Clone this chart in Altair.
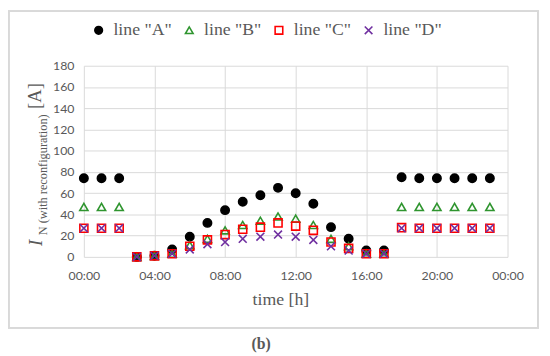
import altair as alt
import pandas as pd

hours = list(range(24))
series_names = ['line "A"', 'line "B"', 'line "C"', 'line "D"']
line_a = [74, 74, 74, 0, 1, 7, 19, 32, 44, 52, 58, 65, 60, 50, 28, 17, 6, 6, 75, 74, 74, 74, 74, 74]
line_b = [47, 47, 47, 0, 1, 3, 11, 17, 25, 30, 34, 38, 36, 30, 17, 10, 3, 3, 47, 47, 47, 47, 47, 47]
line_c = [27, 27, 27, 0, 1, 3, 10, 16, 21, 26, 28, 32, 29, 25, 14, 8, 3, 3, 27.5, 27, 27, 27, 27, 27]
line_d = [27, 27, 27, 0, 1, 3, 7, 12, 14, 17, 19, 21, 19, 16, 10, 6, 3, 3, 27, 27, 27, 27, 27, 27]
x_ticks = [0, 4, 8, 12, 16, 20, 24]
y_ticks = list(range(0, 181, 20))

rows = []
for i, (name, vals) in enumerate(zip(series_names, [line_a, line_b, line_c, line_d])):
    for h, v in zip(hours, vals):
        rows.append({"hour": h, "value": v, "series": name, "sz": i})
df = pd.DataFrame(rows)

colors = ["#000000", "#2f952f", "#ff0000", "#7030a0"]
fills = ["#000000", "transparent", "transparent", "transparent"]
shapes = ["circle", "triangle-up", "square", "M-1,-1L1,1M-1,1L1,-1"]
sizes = [72, 64, 81, 45]

points = alt.Chart(df).mark_point(strokeWidth=1.6, opacity=1).encode(
    x=alt.X("hour:Q", scale=alt.Scale(domain=[0, 24], nice=False, zero=False),
            axis=alt.Axis(values=x_ticks, title=None, grid=True, ticks=False, domain=False,
                          labelExpr="(datum.value % 24 < 10 ? '0' : '') + (datum.value % 24) + ':00'",
                          labelFont="Lato", labelFontSize=12.5, labelColor="#595959",
                          labelPadding=13, labelFlush=False, labelOverlap=False,
                          gridColor="#d9d9d9", gridWidth=1)),
    y=alt.Y("value:Q", scale=alt.Scale(domain=[0, 180], nice=False),
            axis=alt.Axis(values=y_ticks, title=None, grid=True, ticks=False, domain=False,
                          labelFont="Lato", labelFontSize=12.5, labelColor="#595959",
                          labelPadding=10, labelOverlap=False, labelFlush=False,
                          gridColor="#d9d9d9", gridWidth=1)),
    stroke=alt.Stroke("series:N", scale=alt.Scale(domain=series_names, range=colors),
                      legend=alt.Legend(title=None, orient="none", direction="horizontal",
                                        legendX=6, legendY=-45,
                                        labelFont="Liberation Serif", labelFontSize=18,
                                        labelColor="#595959", labelOffset=6,
                                        columnPadding=8, symbolSize=60,
                                        symbolStrokeWidth=1.6)),
    fill=alt.Fill("series:N", scale=alt.Scale(domain=series_names, range=fills)),
    shape=alt.Shape("series:N", scale=alt.Scale(domain=series_names, range=shapes)),
    size=alt.Size("sz:O", scale=alt.Scale(domain=[0, 1, 2, 3], range=sizes), legend=None),
)

border = alt.Chart(df).mark_rect(fill="transparent", stroke="#d9d9d9", strokeWidth=1.2).encode(
    x=alt.value(-76.5), x2=alt.value(461), y=alt.value(-55.5), y2=alt.value(266)
)

def label(text, x, y, size, angle=0, style="normal", weight="normal", align="center"):
    return alt.Chart(pd.DataFrame({"t": [text]})).mark_text(
        font="Liberation Serif", fontSize=size, fontStyle=style, fontWeight=weight,
        color="#595959", angle=angle, align=align, baseline="middle"
    ).encode(text="t:N", x=alt.value(x), y=alt.value(y))

x_title = label("time [h]", 200, 238, 18)
b_label = label("(b)", 180, 282, 16, weight="bold")
y_i = label("I", -48, 183, 19, angle=270, style="italic", align="left")
y_sub = label("N (with reconfiguration)", -41, 172, 12.5, angle=270, align="left")
y_unit = label("[A]", -49, 44, 19, angle=270, align="left")

chart = alt.layer(border, points, x_title, b_label, y_i, y_sub, y_unit).properties(
    width=430, height=194,
    autosize=alt.AutoSizeParams(type="none"),
    padding={"left": 77, "top": 56, "right": 35, "bottom": 98},
).configure_view(stroke=None)

chart.save("out.html", embed_options={"renderer": "svg", "actions": False})
